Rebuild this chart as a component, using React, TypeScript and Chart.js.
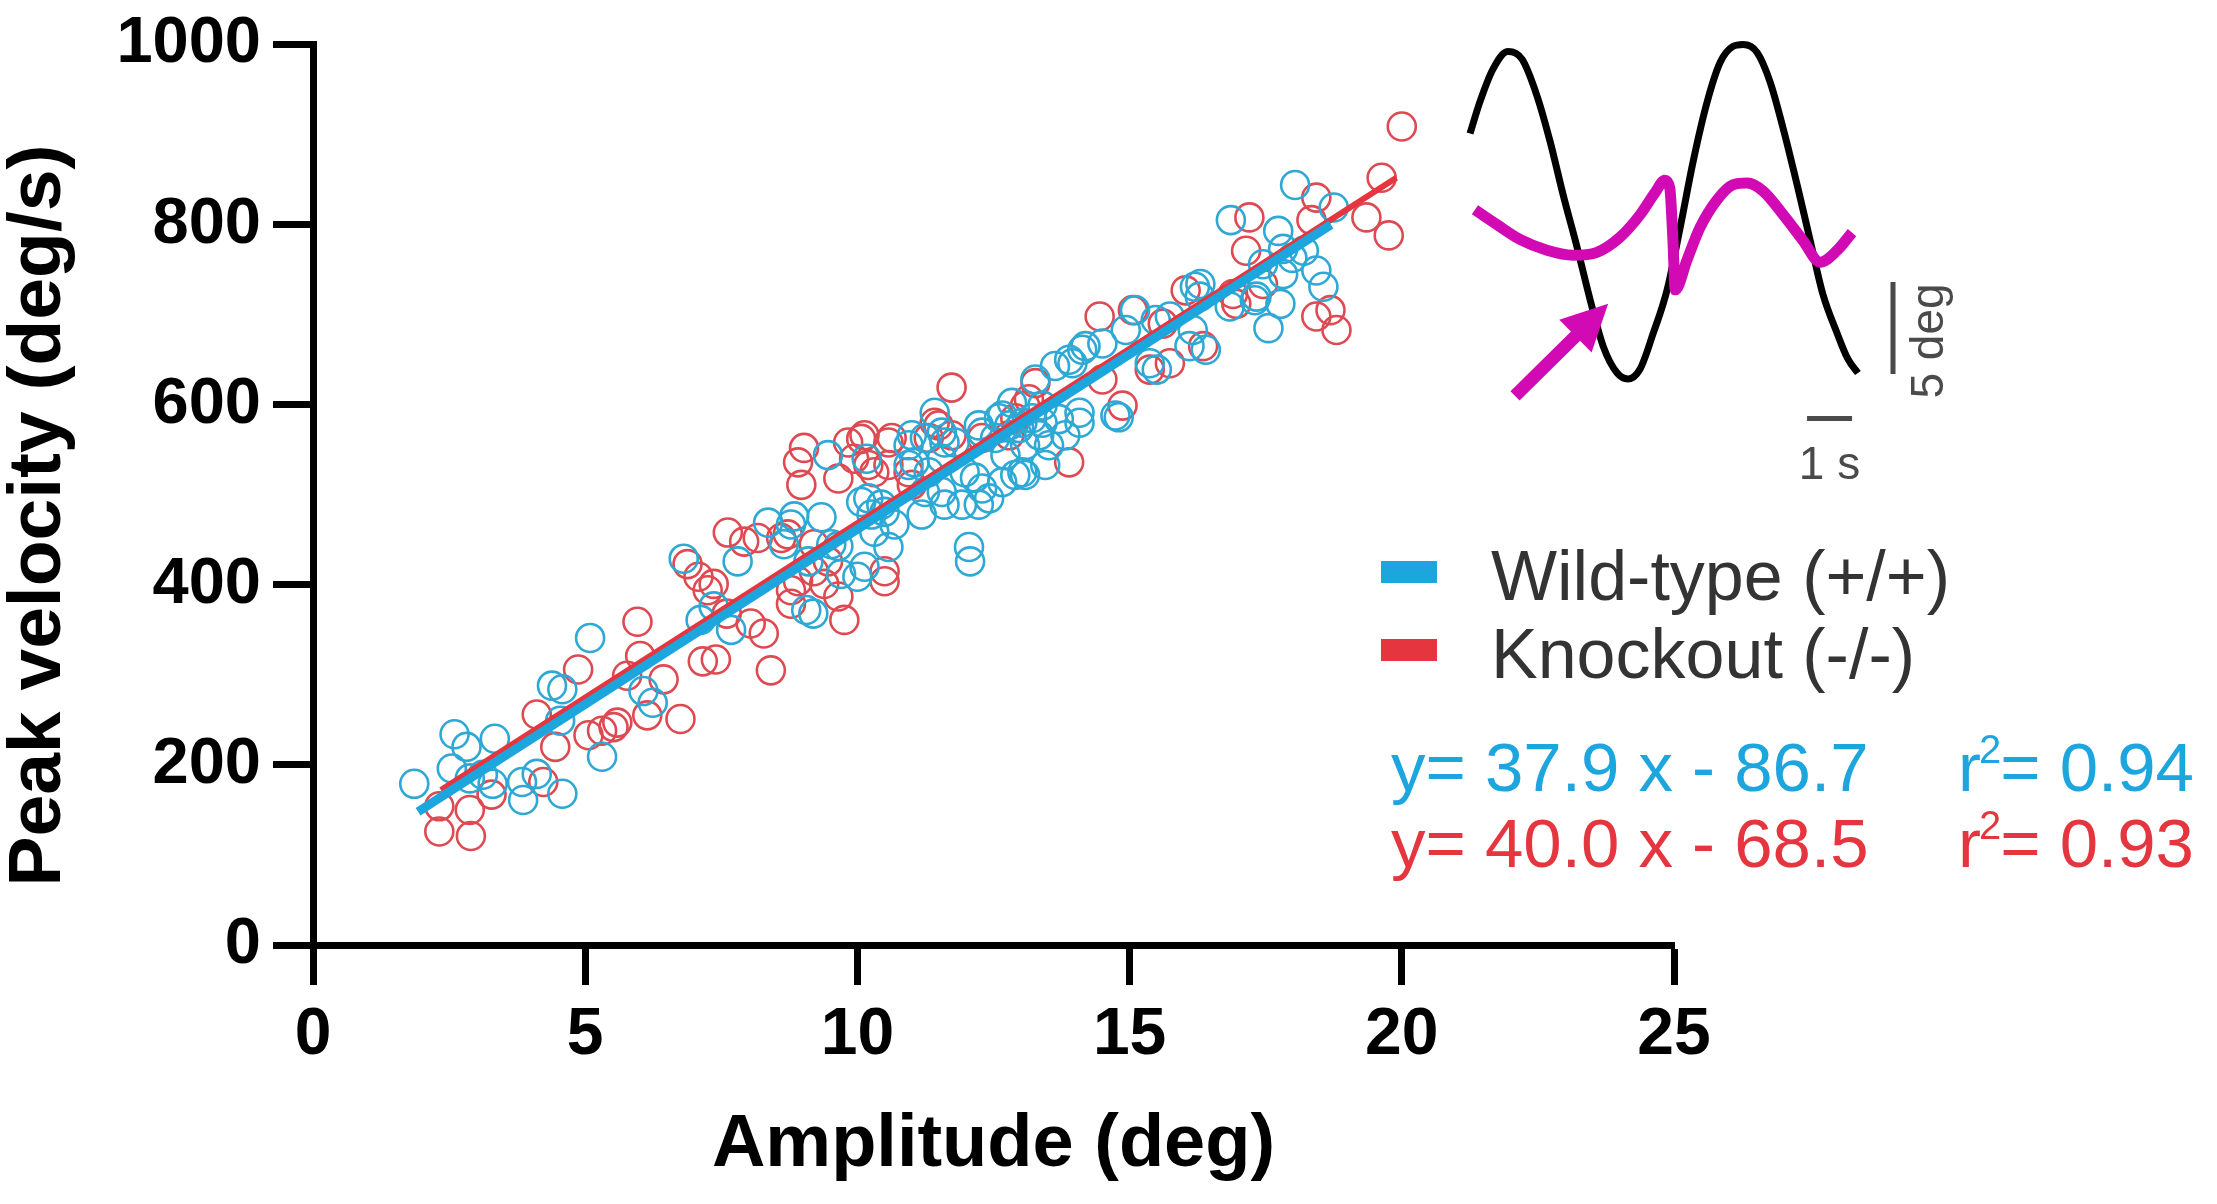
import React, { useEffect, useRef } from 'react';
import { Chart, registerables } from 'chart.js';

Chart.register(...registerables);

// ---------- axis ticks ----------
const xTickValues = [0, 5, 10, 15, 20, 25];
const yTickValues = [0, 200, 400, 600, 800, 1000];

// ---------- Wild-type (+/+) scatter ----------
const wtX = [
  1.86, 2.55, 2.6, 2.82, 2.88, 3.12, 3.3, 3.34, 3.84, 3.86, 4.11, 4.39, 4.54, 4.58, 4.58, 5.09, 5.31, 6.07, 6.24,
  6.81, 7.12, 7.36, 7.68, 7.8, 8.36, 8.65, 8.78, 8.84, 9.06, 9.1, 9.19, 9.34, 9.46, 9.52, 9.65, 9.7, 10.0, 10.07,
  10.13, 10.17, 10.2, 10.26, 10.31, 10.44, 10.5, 10.57, 10.68, 10.94, 10.94, 11.0, 11.05, 11.18, 11.24, 11.24,
  11.31, 11.42, 11.55, 11.55, 11.55, 11.6, 11.6, 11.79, 11.92, 11.97, 12.05, 12.07, 12.16, 12.23, 12.23, 12.29,
  12.29, 12.42, 12.53, 12.6, 12.66, 12.66, 12.72, 12.79, 12.84, 12.9, 12.97, 13.03, 13.03, 13.08, 13.08, 13.21,
  13.27, 13.34, 13.4, 13.4, 13.45, 13.52, 13.63, 13.7, 13.82, 13.89, 13.95, 14.08, 14.08, 14.13, 14.19, 14.5,
  14.74, 14.8, 14.93, 15.1, 15.37, 15.48, 15.5, 15.74, 16.1, 16.16, 16.2, 16.29, 16.3, 16.4, 16.84, 16.86, 17.3,
  17.33, 17.45, 17.55, 17.73, 17.77, 17.82, 17.82, 17.99, 18.04, 18.2, 18.43, 18.56, 18.75,
];
const wtY = [
  179, 196, 234, 220, 185, 189, 179, 229, 181, 161, 190, 288, 249, 284, 168, 341, 209, 282, 269,
  429, 361, 376, 350, 426, 469, 445, 467, 476, 372, 426, 368, 475, 544, 445, 443, 412, 409, 492,
  420, 540, 496, 478, 459, 489, 481, 442, 467, 555, 533, 566, 536, 478, 503, 563,
  525, 591, 569, 540, 503, 558, 489, 558, 489, 525, 442, 426, 519, 489, 577, 569,
  507, 496, 563, 585, 514, 588, 544, 577, 602, 522, 574, 580, 525, 555, 522, 585,
  628, 566, 580, 599, 533, 555, 643, 584, 566, 650, 646, 580, 591, 661, 665, 668,
  588, 586, 683, 705, 646, 694, 639, 698, 665, 683, 731, 720, 734, 661, 709, 805, 716,
  720, 756, 685, 793, 712, 745, 773, 763, 844, 771, 749, 731, 819,
];

// ---------- Knockout (-/-) scatter ----------
const koX = [
  2.32, 2.32, 2.88, 2.9, 3.28, 4.11, 4.23, 4.45, 4.87, 5.06, 5.31, 5.52, 5.59, 5.77, 5.96, 6.01, 6.14, 6.44, 6.75,
  6.88, 7.08, 7.16, 7.25, 7.36, 7.4, 7.6, 7.62, 7.92, 8.04, 8.17, 8.28, 8.41, 8.6, 8.72, 8.78, 8.78, 8.91, 8.91,
  8.97, 9.02, 9.2, 9.2, 9.39, 9.46, 9.65, 9.65, 9.76, 9.83, 9.94, 10.07, 10.13, 10.2, 10.31, 10.5, 10.5, 10.57,
  10.57, 10.63, 10.94, 11.0, 11.31, 11.42, 11.49, 11.73, 11.73, 12.29, 12.79, 12.9, 13.08, 13.15, 13.27, 13.89,
  14.45, 14.5, 14.87, 15.06, 15.37, 15.61, 15.74, 16.03, 16.35, 16.9, 16.96, 17.14, 17.2, 17.45, 18.34, 18.43,
  18.43, 18.69, 18.8, 19.35, 19.63, 19.76, 20.0,
];
const koY = [
  154, 126, 150, 121, 167, 256, 181, 220, 306, 233, 238, 242, 247, 299, 359, 321, 255, 295, 251,
  423, 409, 315, 394, 401, 317, 368, 458, 448, 357, 452, 346, 305, 452, 456, 394, 379, 404, 536,
  511, 552, 445, 415, 401, 426, 518, 387, 361, 558, 540, 562, 566, 533, 525, 415, 404, 558,
  533, 563, 525, 511, 563, 580, 577, 619, 566, 563, 566, 585, 599, 606, 624, 536,
  698, 628, 599, 705, 639, 690, 646, 727, 665, 723, 712, 771, 808, 734, 805, 830,
  698, 705, 683, 808, 852, 788, 909,
];

// ---------- regression lines (end points) ----------
const wtFitX = [1.93, 18.7];
const wtFitY = [148, 800];
const koFitX = [2.35, 19.9];
const koFitY = [172, 852];

// ---------- inset traces (time in s, position in deg) ----------
const stimT = [0, 0.22, 0.51, 0.84, 1.16, 1.49, 1.78, 2.07, 2.38, 2.67, 2.96, 3.27, 3.51, 3.78, 4.07, 4.38, 4.67, 4.96,
  5.27, 5.56, 5.84, 6.07, 6.38, 6.67, 6.96, 7.27, 7.56, 7.84, 8.16, 8.4, 8.62];
const stimDeg = [4.3, 6.02, 7.8, 8.76, 8.33, 6.34, 3.87, 0.97, -1.88, -4.73, -7.26, -8.71, -9.03, -8.49, -6.56, -4.19,
  -0.81, 2.8, 6.02, 8.17, 9.03, 9.14, 8.71, 7.1, 4.57, 1.51, -1.51, -4.41, -6.56, -7.96, -8.71];
const eyeT = [0.11, 0.6, 1.11, 1.71, 2.29, 2.82, 3.33, 3.78, 4.11, 4.33, 4.44, 4.51, 4.56, 4.82, 5.11, 5.49, 5.84,
  6.16, 6.51, 6.96, 7.4, 7.78, 8.16, 8.49];
const eyeDeg = [0.16, -0.65, -1.45, -2.04, -2.31, -2.15, -1.34, -0.11, 1.08, 1.77, 1.34, -1.51, -4.19, -2.58, -0.81,
  0.7, 1.51, 1.61, 1.18, -0.11, -1.51, -2.69, -2.04, -1.08];
const arrowT = [1.0, 3.07];
const arrowDeg = [-9.95, -4.95];
const timeBarT = [7.49, 8.49];
const timeBarDeg = [-11.18, -11.18];
const angleBarT = [9.4, 9.4];
const angleBarDeg = [-3.76, -8.76];

// ---------- texts ----------
const legendLabels = ['Wild-type (+/+)', 'Knockout (-/-)'];
const fitEquations = ['y= 37.9 x - 86.7', 'y= 40.0 x - 68.5'];
const fitR2 = ['0.94', '0.93'];

const BLUE = '#1DA5DD';
const RED = '#E5363F';
const BLUE_PT = '#2EA8D4';
const RED_PT = '#DE4A52';
const MAGENTA = '#D20AB4';
const FONT = '"Liberation Sans", Arial, Helvetica, sans-serif';

// pinned plot area (canvas pixels)
const PLOT = { left: 313, right: 1674, top: 35, bottom: 945 };
const CANVAS_W = 2217;
const CANVAS_H = 1204;
// inset frame: pixels per unit and pixel origin
const INSET_PX_PER_S = 45;
const INSET_PX_PER_DEG = 18.6;
const INSET_ORIGIN_X = 1470;
const INSET_ORIGIN_Y = 205;

const zip = (xs: number[], ys: number[]) => xs.map((x, i) => ({ x, y: ys[i] }));

const annotationPlugin = {
  id: 'annotations',
  afterDatasetsDraw(chart: any) {
    const ctx: CanvasRenderingContext2D = chart.ctx;
    const sx = chart.scales.xInset;
    const sy = chart.scales.yInset;
    ctx.save();

    // arrow
    const ax0 = sx.getPixelForValue(arrowT[0]);
    const ay0 = sy.getPixelForValue(arrowDeg[0]);
    const ax1 = sx.getPixelForValue(arrowT[1]);
    const ay1 = sy.getPixelForValue(arrowDeg[1]);
    const ang = Math.atan2(ay1 - ay0, ax1 - ax0);
    const headLen = 46;
    const headHalf = 23;
    const bx = ax1 - headLen * Math.cos(ang);
    const by = ay1 - headLen * Math.sin(ang);
    ctx.strokeStyle = MAGENTA;
    ctx.fillStyle = MAGENTA;
    ctx.lineWidth = 13;
    ctx.lineCap = 'butt';
    ctx.beginPath();
    ctx.moveTo(ax0, ay0);
    ctx.lineTo(bx + 2 * Math.cos(ang), by + 2 * Math.sin(ang));
    ctx.stroke();
    ctx.beginPath();
    ctx.moveTo(ax1, ay1);
    ctx.lineTo(bx + headHalf * Math.sin(ang), by - headHalf * Math.cos(ang));
    ctx.lineTo(bx - headHalf * Math.sin(ang), by + headHalf * Math.cos(ang));
    ctx.closePath();
    ctx.fill();

    // scale bar labels
    ctx.fillStyle = '#4a4a4a';
    ctx.font = `46px ${FONT}`;
    ctx.textAlign = 'center';
    ctx.textBaseline = 'alphabetic';
    const tbx = (sx.getPixelForValue(timeBarT[0]) + sx.getPixelForValue(timeBarT[1])) / 2;
    const tby = sy.getPixelForValue(timeBarDeg[0]);
    ctx.fillText('1 s', tbx, tby + 60);
    const abx = sx.getPixelForValue(angleBarT[0]);
    const aby = (sy.getPixelForValue(angleBarDeg[0]) + sy.getPixelForValue(angleBarDeg[1])) / 2;
    ctx.save();
    ctx.translate(abx + 50, aby + 13);
    ctx.rotate(-Math.PI / 2);
    ctx.fillText('5 deg', 0, 0);
    ctx.restore();

    // legend
    const area = chart.chartArea;
    const lx = area.right - 293;
    const legendColors = [BLUE, RED];
    const legendBase = [600, 678];
    ctx.textAlign = 'left';
    ctx.font = `70px ${FONT}`;
    legendLabels.forEach((lab, i) => {
      ctx.fillStyle = legendColors[i];
      ctx.fillRect(lx, legendBase[i] - 39, 56, 22);
      ctx.fillStyle = '#333333';
      ctx.fillText(lab, lx + 110, legendBase[i]);
    });

    // equations
    const eqBase = [791, 867];
    fitEquations.forEach((eq, i) => {
      ctx.fillStyle = legendColors[i];
      ctx.font = `69px ${FONT}`;
      ctx.fillText(eq, lx + 10, eqBase[i]);
      let rx = lx + 577;
      ctx.fillText('r', rx, eqBase[i]);
      rx += ctx.measureText('r').width - 2;
      ctx.font = `40px ${FONT}`;
      ctx.fillText('2', rx, eqBase[i] - 28);
      rx += ctx.measureText('2').width - 1;
      ctx.font = `69px ${FONT}`;
      ctx.fillText('= ' + fitR2[i], rx, eqBase[i]);
    });

    ctx.restore();
  },
};

export default function App() {
  const canvasRef = useRef<HTMLCanvasElement | null>(null);

  useEffect(() => {
    if (!canvasRef.current) return;
    const lineBase = { showLine: true, pointRadius: 0, pointHoverRadius: 0, fill: false } as any;
    const insetBase = {
      ...lineBase,
      xAxisID: 'xInset',
      yAxisID: 'yInset',
      clip: false,
      cubicInterpolationMode: 'monotone',
    } as any;

    const chart = new Chart(canvasRef.current, {
      type: 'scatter',
      data: {
        datasets: [
          { ...lineBase, label: 'wt fit', data: zip(wtFitX, wtFitY), borderColor: BLUE, borderWidth: 9, borderCapStyle: 'butt' },
          { ...lineBase, label: 'ko fit', data: zip(koFitX, koFitY), borderColor: RED, borderWidth: 6, borderCapStyle: 'butt' },
          { ...insetBase, label: 'eye', data: zip(eyeT, eyeDeg), borderColor: MAGENTA, borderWidth: 11, borderCapStyle: 'butt', borderJoinStyle: 'round' },
          { ...insetBase, label: 'stimulus', data: zip(stimT, stimDeg), borderColor: '#000000', borderWidth: 7, borderCapStyle: 'butt' },
          { ...insetBase, label: 'time bar', data: zip(timeBarT, timeBarDeg), borderColor: '#4a4a4a', borderWidth: 5, cubicInterpolationMode: 'default' },
          { ...insetBase, label: 'angle bar', data: zip(angleBarT, angleBarDeg), borderColor: '#4a4a4a', borderWidth: 5, cubicInterpolationMode: 'default' },
          {
            label: legendLabels[0], data: zip(wtX, wtY), pointRadius: 14, pointHoverRadius: 14,
            pointBorderWidth: 2.6, pointBorderColor: BLUE_PT, pointBackgroundColor: 'rgba(0,0,0,0)', borderColor: BLUE_PT,
            backgroundColor: 'rgba(0,0,0,0)',
          },
          {
            label: legendLabels[1], data: zip(koX, koY), pointRadius: 14, pointHoverRadius: 14,
            pointBorderWidth: 2.6, pointBorderColor: RED_PT, pointBackgroundColor: 'rgba(0,0,0,0)', borderColor: RED_PT,
            backgroundColor: 'rgba(0,0,0,0)',
          },
        ] as any,
      },
      options: {
        animation: false,
        responsive: true,
        maintainAspectRatio: false,
        events: [],
        layout: { padding: { top: PLOT.top, right: CANVAS_W - PLOT.right, bottom: 0, left: 0 } },
        plugins: { legend: { display: false }, tooltip: { enabled: false } },
        scales: {
          x: {
            type: 'linear',
            position: 'bottom',
            min: 0,
            max: 25,
            afterBuildTicks: (scale: any) => { scale.ticks = xTickValues.map((v) => ({ value: v })); },
            afterFit: (scale: any) => { scale.height = CANVAS_H - PLOT.bottom; },
            border: { display: true, width: 7, color: '#000' },
            grid: { display: true, drawOnChartArea: false, drawTicks: true, tickLength: 40, tickWidth: 7, tickColor: '#000', color: '#000' },
            ticks: { color: '#000', padding: 18, callback: (v: any) => String(v), font: { family: FONT, size: 66, weight: 'bold', lineHeight: 1 } },
            title: {
              display: true,
              text: 'Amplitude (deg)',
              color: '#000',
              padding: { top: 0, bottom: 21 },
              font: { family: FONT, size: 74, weight: 'bold', lineHeight: 1 },
            },
          },
          y: {
            type: 'linear',
            position: 'left',
            min: 0,
            max: 1000,
            afterBuildTicks: (scale: any) => { scale.ticks = yTickValues.map((v) => ({ value: v })); },
            afterFit: (scale: any) => { scale.width = PLOT.left; },
            border: { display: true, width: 7, color: '#000' },
            grid: { display: true, drawOnChartArea: false, drawTicks: true, tickLength: 40, tickWidth: 7, tickColor: '#000', color: '#000' },
            ticks: { color: '#000', padding: 12, callback: (v: any) => String(v), font: { family: FONT, size: 65, weight: 'bold', lineHeight: 1 } },
            title: {
              display: true,
              text: 'Peak velocity (deg/s)  ',
              color: '#000',
              padding: { top: 2, bottom: 0 },
              font: { family: FONT, size: 75, weight: 'bold', lineHeight: 1 },
            },
          },
          // hidden frame of the inset: bounds set after data limits so no point is culled
          xInset: {
            type: 'linear',
            axis: 'x',
            position: 'bottom',
            display: false,
            bounds: 'data',
            afterDataLimits: (scale: any) => {
              scale.min = (PLOT.left - INSET_ORIGIN_X) / INSET_PX_PER_S;
              scale.max = (PLOT.right - INSET_ORIGIN_X) / INSET_PX_PER_S;
            },
          },
          yInset: {
            type: 'linear',
            axis: 'y',
            position: 'left',
            display: false,
            bounds: 'data',
            afterDataLimits: (scale: any) => {
              scale.max = (INSET_ORIGIN_Y - PLOT.top) / INSET_PX_PER_DEG;
              scale.min = (INSET_ORIGIN_Y - PLOT.bottom) / INSET_PX_PER_DEG;
            },
          },
        } as any,
      },
      plugins: [annotationPlugin],
    });
    return () => chart.destroy();
  }, []);

  return (
    <div style={{ position: 'fixed', left: 0, top: 0, width: CANVAS_W, height: CANVAS_H, background: '#fff' }}>
      <canvas ref={canvasRef} />
    </div>
  );
}
